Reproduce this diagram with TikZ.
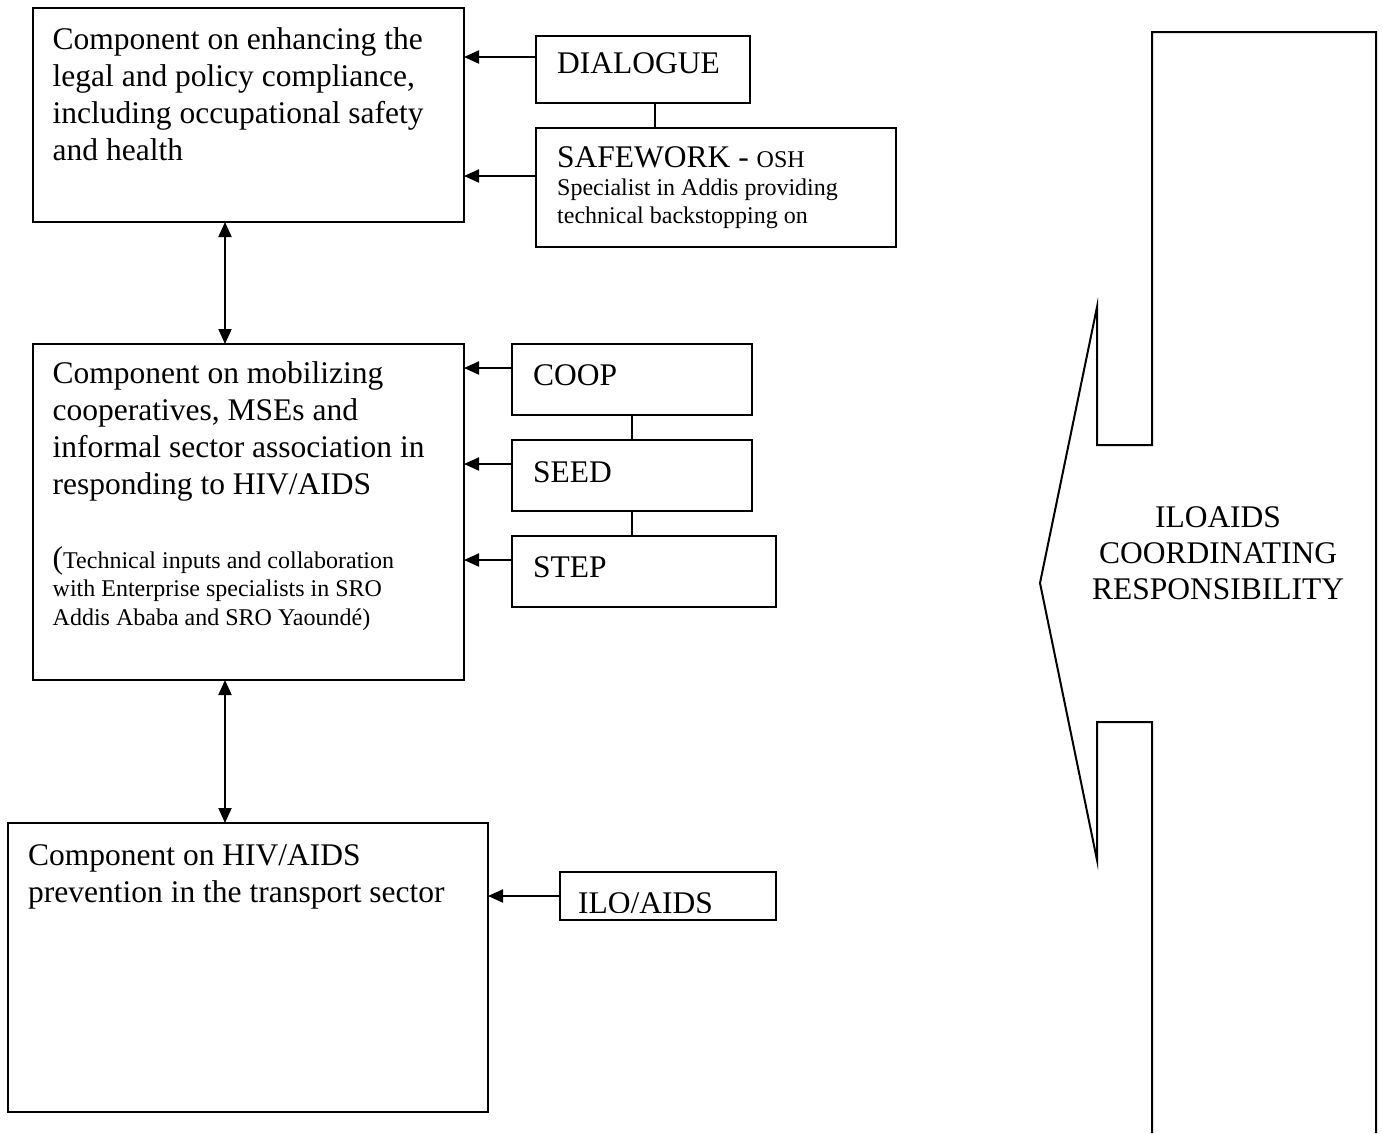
\documentclass[tikz,border=0pt]{standalone}
\usepackage{fontspec}
\setmainfont{Liberation Serif}
\usetikzlibrary{arrows.meta}
\newcommand{\bigtxt}{\fontsize{31.5}{37}\selectfont}
\newcommand{\smtxt}{\fontsize{24}{28}\selectfont}
\begin{document}
\begin{tikzpicture}[x=1pt,y=-1pt,
  box/.style={draw,line width=2pt,inner sep=0pt,outer sep=0pt,anchor=north west},
  txt/.style={anchor=base west,inner sep=0pt,font=\bigtxt},
  ctxt/.style={anchor=base,inner sep=0pt,font=\bigtxt},
  sm/.style={anchor=base west,inner sep=0pt,font=\smtxt},
  ln/.style={line width=2pt},
  arr/.style={line width=2pt,-{Triangle[length=15pt,width=13pt]}},
  dbl/.style={line width=2pt,{Triangle[length=15pt,width=13pt]}-{Triangle[length=15pt,width=13pt]}}]
\useasboundingbox (0,0) rectangle (1383,1133);

% boxes
\node[box,minimum width=431pt,minimum height=214pt] (A) at (33,8) {};
\node[box,minimum width=214pt,minimum height=67pt] (DLG) at (536,36) {};
\node[box,minimum width=360pt,minimum height=119pt] (SW) at (536,128) {};
\node[box,minimum width=431pt,minimum height=336pt] (B) at (33,344) {};
\node[box,minimum width=240pt,minimum height=71pt] (COOP) at (512,344) {};
\node[box,minimum width=240pt,minimum height=71pt] (SEED) at (512,440) {};
\node[box,minimum width=264pt,minimum height=71pt] (STEP) at (512,536) {};
\node[box,minimum width=480pt,minimum height=289pt] (C) at (8,823) {};
\node[box,minimum width=216pt,minimum height=48pt] (ILO) at (560,872) {};

% texts box A
\node[txt] (a1) at (52.5,49) {Component on enhancing the};
\node[txt] (a2) at (52.5,86) {legal and policy compliance,};
\node[txt] (a3) at (52.5,123) {including occupational safety};
\node[txt] (a4) at (52.5,160) {and health};

% texts box B
\node[txt] (b1) at (52.5,383) {Component on mobilizing};
\node[txt] (b2) at (52.5,420) {cooperatives, MSEs and};
\node[txt] (b3) at (52.5,457) {informal sector association in};
\node[txt] (b4) at (52.5,494) {responding to HIV/AIDS};
\node[sm] (b5) at (52.5,568) {{\bigtxt(}Technical inputs and collaboration};
\node[sm] (b6) at (52.5,596.5) {with Enterprise specialists in SRO};
\node[sm] (b7) at (52.5,625) {Addis Ababa and SRO Yaoundé)};

% texts box C
\node[txt] (c1) at (28,865) {Component on HIV/AIDS};
\node[txt] (c2) at (28,902) {prevention in the transport sector};

% side boxes
\node[txt] (dlgT) at (557,73) {DIALOGUE};
\node[txt] (sw1) at (557,167) {SAFEWORK - {\smtxt OSH}};
\node[sm] (sw2) at (557,195) {Specialist in Addis providing};
\node[sm] (sw3) at (557,223) {technical backstopping on};
\node[txt] (coopT) at (533,385) {COOP};
\node[txt] (seedT) at (533,482) {SEED};
\node[txt] (stepT) at (533,577) {STEP};
\begin{scope}
  \clip (ILO.north west) rectangle ([yshift=8pt]ILO.south east);
  \node[txt] (iloT) at (578,913) {ILO/AIDS};
\end{scope}

% connectors
\draw[arr] ([yshift=12.5pt]DLG.west) -- ([yshift=12.5pt]DLG.west -| A.east);
\draw[arr] ([yshift=11.5pt]SW.west) -- ([yshift=11.5pt]SW.west -| A.east);
\draw[ln] ([xshift=12pt]DLG.south) -- ([xshift=12pt]DLG.south |- SW.north);
\draw[dbl] ([xshift=-23.5pt]A.south) -- ([xshift=-23.5pt]B.north);
\draw[arr] ([yshift=11.5pt]COOP.west) -- ([yshift=11.5pt]COOP.west -| B.east);
\draw[arr] ([yshift=11.5pt]SEED.west) -- ([yshift=11.5pt]SEED.west -| B.east);
\draw[arr] ([yshift=11.5pt]STEP.west) -- ([yshift=11.5pt]STEP.west -| B.east);
\draw[ln] (COOP.south) -- (SEED.north);
\draw[ln] (SEED.south) -- (SEED.south |- STEP.north);
\draw[dbl] ([xshift=-23.5pt]B.south) -- ([xshift=-23.5pt]B.south |- C.north);
\draw[arr] (ILO.west) -- (ILO.west -| C.east);

% coordinating arrow shape
\draw[ln,line join=miter] (1152,1133) -- (1152,722) -- (1097,722) -- (1097,860) -- (1040,583)
  -- (1097,307) -- (1097,445) -- (1152,445) -- (1152,32) -- (1376,32) -- (1376,1133);
\node[ctxt] (k1) at (1218,527) {ILOAIDS};
\node[ctxt] (k2) at (1218,563) {COORDINATING};
\node[ctxt] (k3) at (1218,599) {RESPONSIBILITY};
\end{tikzpicture}
\end{document}
